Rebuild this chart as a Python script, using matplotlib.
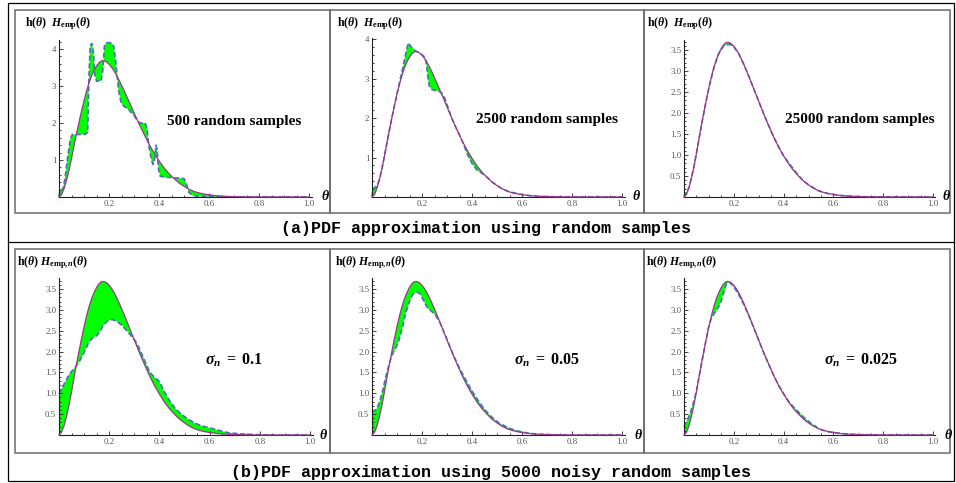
import matplotlib.pyplot as plt
from matplotlib.patches import Rectangle
import numpy as np

plt.rcParams['font.family'] = 'Liberation Serif'
plt.rcParams['mathtext.fontset'] = 'custom'
plt.rcParams['mathtext.rm'] = 'Liberation Serif'
plt.rcParams['mathtext.it'] = 'Liberation Serif:italic'
plt.rcParams['mathtext.bf'] = 'Liberation Serif:bold'
plt.rcParams['mathtext.bfit'] = 'Liberation Serif:italic:bold'

# true density h(theta)
theta_h = [0.00, 0.01, 0.02, 0.03, 0.04, 0.05, 0.06, 0.07, 0.08, 0.09, 0.10, 0.11, 0.12, 0.13,
           0.14, 0.15, 0.16, 0.17, 0.18, 0.19, 0.20, 0.21, 0.22, 0.23, 0.24, 0.25, 0.26, 0.27,
           0.28, 0.29, 0.30, 0.32, 0.34, 0.36, 0.38, 0.40, 0.42, 0.44, 0.46, 0.48, 0.50, 0.52,
           0.54, 0.56, 0.58, 0.60, 0.63, 0.66, 0.70, 0.75, 0.80, 1.00]
h_vals = [0.00, 0.06, 0.22, 0.45, 0.72, 1.04, 1.38, 1.71, 2.02, 2.32, 2.60, 2.86, 3.08, 3.27,
          3.42, 3.54, 3.63, 3.68, 3.68, 3.65, 3.59, 3.51, 3.41, 3.29, 3.16, 3.02, 2.88, 2.73,
          2.58, 2.43, 2.28, 1.98, 1.70, 1.43, 1.19, 0.98, 0.79, 0.63, 0.50, 0.38, 0.29, 0.21,
          0.15, 0.11, 0.08, 0.06, 0.035, 0.02, 0.01, 0.004, 0.001, 0.00]

# empirical densities, 500 / 2500 / 25000 samples
theta_500 = [0.0, 0.004, 0.016, 0.025, 0.035, 0.045, 0.053, 0.08, 0.105, 0.115, 0.12, 0.125,
             0.132, 0.138, 0.143, 0.15, 0.168, 0.175, 0.182, 0.19, 0.21, 0.22, 0.228, 0.238,
             0.248, 0.26, 0.28, 0.30, 0.315, 0.325, 0.345, 0.352, 0.36, 0.37, 0.376, 0.382,
             0.388, 0.392, 0.398, 0.405, 0.43, 0.46, 0.50, 0.51, 0.52, 0.535, 0.56, 0.60,
             0.70, 1.0]
emp_500 = [0.0, 0.18, 0.22, 0.55, 1.10, 1.55, 1.69, 1.69, 1.69, 1.75, 3.30, 4.10,
           4.15, 3.90, 3.30, 3.13, 3.13, 3.40, 4.10, 4.17, 4.17, 4.05, 3.60, 2.90,
           2.55, 2.45, 2.35, 2.20, 2.05, 2.00, 2.00, 1.85, 1.35, 1.00, 0.88, 1.00,
           1.40, 1.30, 0.75, 0.56, 0.53, 0.52, 0.50, 0.35, 0.12, 0.04, 0.02, 0.01,
           0.0, 0.0]

theta_2500 = [0.0, 0.004, 0.012, 0.02, 0.03, 0.04, 0.06, 0.08, 0.10, 0.12, 0.13, 0.14, 0.145,
              0.15, 0.16, 0.17, 0.18, 0.19, 0.20, 0.21, 0.215, 0.22, 0.225, 0.23, 0.24, 0.25,
              0.26, 0.27, 0.28, 0.29, 0.30, 0.31, 0.32, 0.34, 0.36, 0.38, 0.40, 0.42, 0.44,
              0.46, 0.48, 0.50, 0.52, 0.55, 0.60, 0.65, 0.70, 0.80, 1.0]
emp_2500 = [0.0, 0.20, 0.25, 0.27, 0.45, 0.72, 1.38, 2.02, 2.62, 3.18, 3.48, 3.78, 3.90,
            3.86, 3.78, 3.72, 3.68, 3.64, 3.60, 3.55, 3.45, 3.25, 2.95, 2.80, 2.72, 2.70,
            2.69, 2.67, 2.62, 2.52, 2.34, 2.16, 1.98, 1.70, 1.43, 1.10, 0.85, 0.68, 0.60,
            0.50, 0.38, 0.29, 0.21, 0.13, 0.06, 0.02, 0.01, 0.001, 0.0]

theta_25000 = [0.0, 0.005, 0.01, 0.02, 0.04, 0.06, 0.08, 0.10, 0.12, 0.14, 0.16, 0.17, 0.18,
               0.19, 0.20, 0.22, 0.24, 0.26, 0.28, 0.30, 0.32, 0.34, 0.36, 0.38, 0.40, 0.42,
               0.44, 0.46, 0.48, 0.50, 0.54, 0.58, 0.63, 0.70, 0.80, 1.0]
emp_25000 = [0.0, 0.10, 0.12, 0.22, 0.72, 1.38, 2.02, 2.60, 3.08, 3.42, 3.60, 3.62, 3.63,
             3.62, 3.57, 3.41, 3.16, 2.88, 2.58, 2.28, 1.98, 1.70, 1.43, 1.19, 0.98, 0.82,
             0.66, 0.51, 0.38, 0.29, 0.15, 0.08, 0.035, 0.01, 0.001, 0.0]

# empirical densities from 5000 noisy samples
theta_s1 = [0.0, 0.02, 0.04, 0.055, 0.068, 0.08, 0.095, 0.108, 0.12, 0.135, 0.15, 0.16, 0.172,
            0.19, 0.21, 0.23, 0.25, 0.27, 0.29, 0.305, 0.32, 0.34, 0.36, 0.37, 0.38, 0.39,
            0.40, 0.41, 0.42, 0.44, 0.46, 0.48, 0.50, 0.52, 0.54, 0.56, 0.58, 0.60, 0.62,
            0.65, 0.68, 0.72, 0.78, 0.85, 1.0]
emp_s1 = [0.99, 1.22, 1.45, 1.56, 1.65, 1.75, 1.92, 2.08, 2.24, 2.33, 2.38, 2.45, 2.58,
          2.72, 2.77, 2.73, 2.63, 2.50, 2.36, 2.25, 2.08, 1.80, 1.53, 1.45, 1.39, 1.34,
          1.28, 1.16, 1.04, 0.83, 0.66, 0.54, 0.44, 0.36, 0.29, 0.24, 0.20, 0.17, 0.14,
          0.09, 0.05, 0.03, 0.01, 0.0, 0.0]

theta_s2 = [0.0, 0.01, 0.02, 0.032, 0.045, 0.055, 0.065, 0.075, 0.085, 0.095, 0.105, 0.115,
            0.125, 0.135, 0.145, 0.155, 0.165, 0.175, 0.185, 0.195, 0.205, 0.215, 0.225,
            0.235, 0.245, 0.255, 0.27, 0.29, 0.31, 0.33, 0.35, 0.37, 0.39, 0.41, 0.43, 0.45,
            0.47, 0.49, 0.51, 0.53, 0.55, 0.58, 0.62, 0.66, 0.72, 0.80, 1.0]
emp_s2 = [0.55, 0.58, 0.64, 0.83, 1.12, 1.40, 1.62, 1.82, 1.98, 2.08, 2.22, 2.42,
          2.66, 2.92, 3.12, 3.28, 3.38, 3.42, 3.42, 3.36, 3.24, 3.12, 3.03,
          2.98, 2.93, 2.86, 2.72, 2.44, 2.14, 1.86, 1.60, 1.38, 1.16, 0.96, 0.78, 0.62,
          0.48, 0.37, 0.28, 0.22, 0.16, 0.10, 0.05, 0.02, 0.006, 0.0, 0.0]

theta_s3 = [0.0, 0.01, 0.02, 0.03, 0.04, 0.05, 0.06, 0.07, 0.08, 0.09, 0.10, 0.11, 0.12, 0.13,
            0.14, 0.15, 0.16, 0.17, 0.18, 0.19, 0.20, 0.21, 0.22, 0.24, 0.26, 0.28, 0.30,
            0.32, 0.34, 0.36, 0.38, 0.40, 0.42, 0.44, 0.46, 0.48, 0.50, 0.52, 0.54, 0.56,
            0.58, 0.60, 0.65, 0.70, 0.80, 1.0]
emp_s3 = [0.20, 0.32, 0.45, 0.62, 0.82, 1.06, 1.38, 1.70, 2.01, 2.32, 2.62, 2.80, 2.90, 2.98,
          3.08, 3.22, 3.42, 3.62, 3.67, 3.62, 3.55, 3.46, 3.36, 3.13, 2.86, 2.57, 2.27,
          1.97, 1.70, 1.43, 1.19, 0.99, 0.81, 0.67, 0.55, 0.43, 0.33, 0.24, 0.16, 0.11,
          0.08, 0.06, 0.025, 0.01, 0.001, 0.0]

sample_notes = ['500 random samples', '2500 random samples', '25000 random samples']
noise_notes = [r'$\mathbfit{\sigma}_{\mathbfit{n}}\mathbf{\ =\ 0.1}$',
               r'$\mathbfit{\sigma}_{\mathbfit{n}}\mathbf{\ =\ 0.05}$',
               r'$\mathbfit{\sigma}_{\mathbfit{n}}\mathbf{\ =\ 0.025}$']
caption_a = '(a)PDF approximation using random samples'
caption_b = '(b)PDF approximation using 5000 noisy random samples'
label_a = r'$\mathbf{h(}\mathbfit{\theta}\mathbf{)}\ \ \mathbfit{H}_{\mathbf{emp}}\mathbf{(}\mathbfit{\theta}\mathbf{)}$'
label_b = r'$\mathbf{h(}\mathbfit{\theta}\mathbf{)}\ \mathbfit{H}_{\mathbf{emp,}\mathbfit{n}}\mathbf{(}\mathbfit{\theta}\mathbf{)}$'

W, H = 956, 483
fig = plt.figure(figsize=(W / 100, H / 100), dpi=100)

# pixel-space overlay for frames and captions
frame = fig.add_axes([0, 0, 1, 1])
frame.set_xlim(0, W)
frame.set_ylim(H, 0)
frame.axis('off')

frame.add_patch(Rectangle((8, 3), 946, 478, fill=False, ec='black', lw=0.9))
frame.plot([8, 954], [242, 242], color='black', lw=0.9)
for top, bottom in [(10, 213), (249, 453)]:
    for left, right in [(15, 330), (330, 644), (644, 950)]:
        frame.add_patch(Rectangle((left, top), right - left, bottom - top,
                                  fill=False, ec='#6a6a6a', lw=1.1))

frame.text(486, 229, caption_a, family='Liberation Mono', weight='bold', fontsize=12,
           ha='center', va='center')
frame.text(491, 473, caption_b, family='Liberation Mono', weight='bold', fontsize=12,
           ha='center', va='center')

XMAX = 1.01


def draw_panel(x0, y0, sx, sy, ymax, th, emp, yticks, yminor, ylab_xy, label, theta_xy,
               note, note_xy, note_size):
    ax = fig.add_axes([x0 / W, 1 - y0 / H, XMAX * sx / W, ymax * sy / H])
    ax.set_xlim(0, XMAX)
    ax.set_ylim(0, ymax)
    ax.patch.set_alpha(0)

    xs = np.r_[theta_h, th[::-1]]
    ys = np.r_[h_vals, emp[::-1]]
    ax.fill(xs, ys, color='#00ff00', lw=0, zorder=1)
    ax.plot(th, emp, color='#4f6fb8', lw=1.2, ls=(0, (3, 1.6)), zorder=2, clip_on=False)
    ax.plot(theta_h, h_vals, color='#9a3a8a', lw=0.9, zorder=3, clip_on=False)

    for side in ['top', 'right']:
        ax.spines[side].set_visible(False)
    for side in ['left', 'bottom']:
        ax.spines[side].set_color('#222222')
        ax.spines[side].set_linewidth(0.8)

    ax.set_xticks([0.2, 0.4, 0.6, 0.8, 1.0])
    ax.set_xticklabels(['0.2', '0.4', '0.6', '0.8', '1.0'])
    ax.set_xticks(np.arange(0.05, 1.0, 0.05), minor=True)
    ax.set_yticks(yticks)
    ax.set_yticklabels([('%g' % v) if v == int(v) and yminor > 0.15 else '%.1f' % v
                        for v in yticks])
    ax.set_yticks(np.arange(yminor, ymax, yminor), minor=True)
    ax.tick_params(which='both', direction='in', color='#222222', width=0.6,
                   labelsize=6.3, labelcolor='#555555', pad=2)
    ax.tick_params(which='major', length=3.2)
    ax.tick_params(which='minor', length=1.6)

    frame.text(ylab_xy[0], ylab_xy[1], label, fontsize=8.5, ha='left', va='center')
    frame.text(theta_xy[0], theta_xy[1], r'$\mathbfit{\theta}$', fontsize=10,
               ha='center', va='center')
    frame.text(note_xy[0], note_xy[1], note, fontsize=note_size, weight='bold',
               ha='center', va='center')


draw_panel(59, 197, 250, 37.0, 4.24, theta_500, emp_500, [1, 2, 3, 4], 0.2,
           (25, 24), label_a, (325, 196), sample_notes[0], (234, 121), 11)
draw_panel(372, 197, 250, 39.5, 4.02, theta_2500, emp_2500, [1, 2, 3, 4], 0.2,
           (337, 24), label_a, (636, 196), sample_notes[1], (547, 120), 11)
draw_panel(684, 197, 249, 42.0, 3.74, theta_25000, emp_25000,
           [0.5, 1.0, 1.5, 2.0, 2.5, 3.0, 3.5], 0.1,
           (647, 24), label_a, (946, 196), sample_notes[2], (860, 120), 11)

draw_panel(59, 435, 251, 41.7, 3.77, theta_s1, emp_s1,
           [0.5, 1.0, 1.5, 2.0, 2.5, 3.0, 3.5], 0.1,
           (17, 263), label_b, (323, 435), noise_notes[0], (234, 360), 11.5)
draw_panel(372, 435, 250, 41.7, 3.77, theta_s2, emp_s2,
           [0.5, 1.0, 1.5, 2.0, 2.5, 3.0, 3.5], 0.1,
           (335, 263), label_b, (638, 435), noise_notes[1], (547, 360), 11.5)
draw_panel(684, 435, 249, 41.7, 3.77, theta_s3, emp_s3,
           [0.5, 1.0, 1.5, 2.0, 2.5, 3.0, 3.5], 0.1,
           (646, 263), label_b, (948, 435), noise_notes[2], (861, 360), 11.5)

fig.savefig('out.png', dpi=100)
